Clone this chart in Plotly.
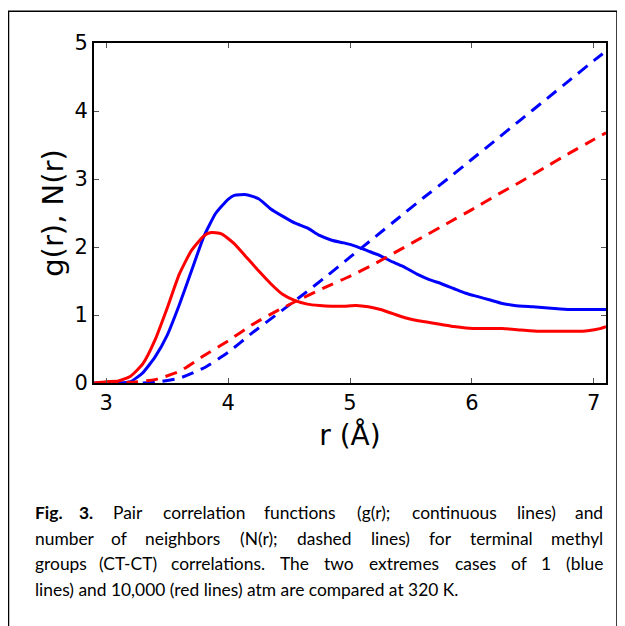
import plotly.graph_objects as go

# ---- data ----
r_g_blue = [2.9, 3.0, 3.1, 3.2, 3.3, 3.4, 3.5, 3.6, 3.7, 3.8, 3.9, 4.0, 4.05, 4.15, 4.25, 4.35,
            4.45, 4.55, 4.65, 4.75, 4.85, 4.95, 5.05, 5.15, 5.25, 5.35, 5.45, 5.55, 5.65,
            5.75, 5.85, 5.95, 6.05, 6.15, 6.25, 6.35, 6.5, 6.65, 6.8, 6.95, 7.1]
g_blue = [0.0, 0.0, 0.0, 0.02, 0.15, 0.38, 0.70, 1.15, 1.65, 2.15, 2.50, 2.70, 2.76, 2.77,
          2.71, 2.56, 2.45, 2.35, 2.28, 2.17, 2.10, 2.06, 2.01, 1.94, 1.87, 1.78, 1.70,
          1.60, 1.52, 1.46, 1.39, 1.32, 1.27, 1.22, 1.17, 1.14, 1.12, 1.10, 1.08, 1.08, 1.08]

r_g_red = [2.9, 3.0, 3.1, 3.2, 3.3, 3.4, 3.5, 3.6, 3.7, 3.8, 3.85, 3.9, 3.95, 4.05, 4.15,
           4.25, 4.35, 4.45, 4.55, 4.65, 4.75, 4.85, 4.95, 5.05, 5.15, 5.25, 5.35, 5.45,
           5.55, 5.65, 5.75, 5.85, 5.95, 6.1, 6.25, 6.4, 6.55, 6.7, 6.85, 6.95, 7.05, 7.1]
g_red = [0.0, 0.02, 0.03, 0.10, 0.28, 0.63, 1.10, 1.60, 1.95, 2.16, 2.21, 2.21, 2.19, 2.05,
         1.85, 1.65, 1.46, 1.30, 1.21, 1.16, 1.14, 1.13, 1.13, 1.14, 1.12, 1.08, 1.02, 0.96,
         0.92, 0.89, 0.86, 0.83, 0.81, 0.80, 0.80, 0.78, 0.76, 0.76, 0.76, 0.77, 0.80, 0.83]

r_n_blue = [3.3, 3.4, 3.6, 3.8, 4.0, 4.2, 4.4, 4.6, 4.8, 5.0, 5.2, 5.4, 5.6, 5.8, 6.0, 6.2,
            6.4, 6.6, 6.8, 7.0, 7.1]
n_blue = [0.0, 0.01, 0.07, 0.22, 0.45, 0.74, 1.01, 1.28, 1.56, 1.85, 2.14, 2.43, 2.72, 3.00,
          3.29, 3.58, 3.87, 4.16, 4.45, 4.74, 4.88]

r_n_red = [3.0, 3.2, 3.4, 3.6, 3.8, 4.0, 4.2, 4.4, 4.6, 4.8, 5.0, 5.2, 5.4, 5.6, 5.8, 6.0,
           6.2, 6.4, 6.6, 6.8, 7.0, 7.1]
n_red = [0.0, 0.01, 0.05, 0.17, 0.40, 0.62, 0.86, 1.06, 1.24, 1.41, 1.57, 1.75, 1.95, 2.15,
         2.35, 2.55, 2.76, 2.96, 3.17, 3.38, 3.58, 3.68]

x_ticks = [3, 4, 5, 6, 7]
y_ticks = [0, 1, 2, 3, 4, 5]

# caption lines (first three are justified in the original)
caption_lines = [
    "Fig. 3. Pair correlation functions (g(r); continuous lines) and",
    "number of neighbors (N(r); dashed lines) for terminal methyl",
    "groups (CT-CT) correlations. The two extremes cases of 1 (blue",
    "lines) and 10,000 (red lines) atm are compared at 320 K.",
]
bold_words = 2  # "Fig. 3."

BLUE = "#0000ff"
RED = "#ff0000"

fig = go.Figure()
sp = dict(shape="spline", smoothing=0.5)
fig.add_trace(go.Scatter(x=r_g_blue, y=g_blue, mode="lines", line=dict(color=BLUE, width=3, **sp)))
fig.add_trace(go.Scatter(x=r_g_red, y=g_red, mode="lines", line=dict(color=RED, width=3, **sp)))
fig.add_trace(go.Scatter(x=r_n_blue, y=n_blue, mode="lines",
                         line=dict(color=BLUE, width=3, dash="12px,8px", **sp)))
fig.add_trace(go.Scatter(x=r_n_red, y=n_red, mode="lines",
                         line=dict(color=RED, width=3, dash="12px,8px", **sp)))

# page body has an 8px margin: work in screenshot pixels, shift by OFF
OFF = 8
W, H = 625 - OFF, 626 - OFF
L, R, T, B = 94 - OFF, 606 - OFF, 42.7 - OFF, 382.7 - OFF
PW, PH = R - L, B - T


def px(xs):
    return (xs - OFF - L) / PW


def py(ys):
    return (B - (ys - OFF)) / PH


axis_common = dict(showline=True, linecolor="black", linewidth=2, mirror="allticks",
                   ticks="inside", ticklen=5, tickcolor="#555555", tickwidth=1,
                   showgrid=False, zeroline=False,
                   tickfont=dict(family="DejaVu Sans", size=21, color="black"))

fig.update_xaxes(range=[2.9, 7.1], tickvals=x_ticks, ticktext=[str(t) for t in x_ticks],
                 title=dict(text="r (Å)", font=dict(family="DejaVu Sans", size=28, color="black"),
                            standoff=11),
                 **axis_common)
fig.update_yaxes(range=[0, 5], tickvals=y_ticks, ticktext=[str(t) for t in y_ticks],
                 title=dict(text="g(r), N(r)", font=dict(family="DejaVu Sans", size=29, color="black"),
                            standoff=2),
                 **axis_common)

# outer frame of the figure box
fig.add_shape(type="rect", xref="paper", yref="paper",
              x0=px(8.5), x1=px(617), y0=py(660), y1=py(11),
              line=dict(color="black", width=1.5), fillcolor="rgba(0,0,0,0)", layer="below")

# ---- caption: approximate Calibri advance widths (em) to justify words ----
CAL = {'a': .479, 'b': .525, 'c': .423, 'd': .525, 'e': .498, 'f': .305, 'g': .471, 'h': .525,
       'i': .229, 'j': .239, 'k': .455, 'l': .229, 'm': .799, 'n': .525, 'o': .527, 'p': .525,
       'q': .525, 'r': .349, 's': .391, 't': .335, 'u': .525, 'v': .452, 'w': .715, 'x': .433,
       'y': .453, 'z': .395, 'C': .533, 'T': .487, 'F': .459, 'N': .646, 'P': .517, 'K': .520,
       '(': .303, ')': .303, ';': .268, '.': .252, ',': .250, '-': .306, ' ': .226}


def wwidth(w):
    return sum(CAL.get(c, .507) for c in w)


CAP_PX = 18.6  # Calibri size in the original
X0, X1 = 33, 605
line_y = [512, 538, 563, 589]
cap_font = dict(family="Lato", size=17.4, color="black")
for li, (text, yc) in enumerate(zip(caption_lines, line_y)):
    if li == 3:
        fig.add_annotation(text=text, x=px(X0), y=py(yc), xref="paper", yref="paper",
                           xanchor="left", yanchor="middle", showarrow=False, font=cap_font)
        continue
    words = text.split(" ")
    widths = [wwidth(w) * CAP_PX for w in words]
    gap = (X1 - X0 - sum(widths)) / (len(words) - 1)
    x = X0
    for wi, (w, ww) in enumerate(zip(words, widths)):
        t = f"<b>{w}</b>" if (li == 0 and wi < bold_words) else w
        if wi == 0:
            xa, xpos = "left", x
        elif wi == len(words) - 1:
            xa, xpos = "right", X1
        else:
            xa, xpos = "center", x + ww / 2
        fig.add_annotation(text=t, x=px(xpos), y=py(yc), xref="paper", yref="paper",
                           xanchor=xa, yanchor="middle", showarrow=False, font=cap_font)
        x += ww + gap

fig.update_layout(width=W, height=H, margin=dict(l=L, r=W - R, t=T, b=H - B, pad=0),
                  plot_bgcolor="white", paper_bgcolor="white", showlegend=False)

fig.write_html("out.html")
